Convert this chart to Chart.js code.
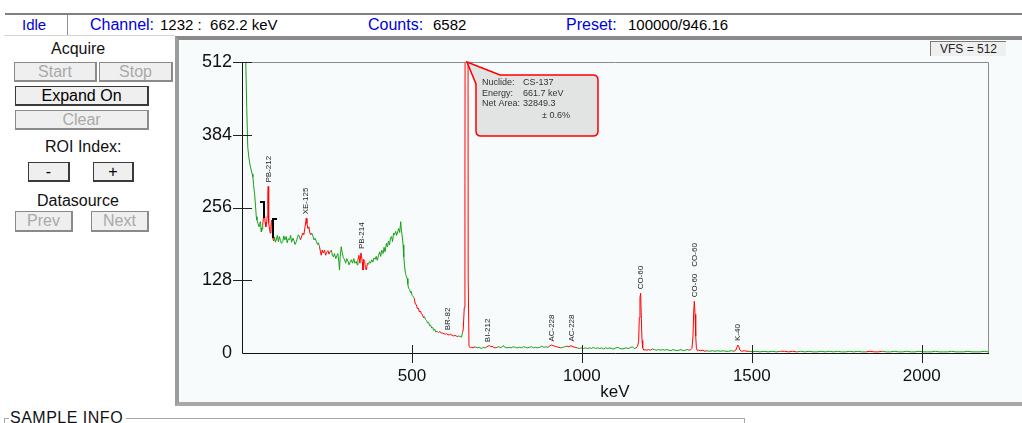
<!DOCTYPE html>
<html>
<head>
<meta charset="utf-8">
<script src="https://cdn.jsdelivr.net/npm/chart.js@4.4.1/dist/chart.umd.min.js"></script>
<style>
body { margin:0; width:1022px; height:423px; overflow:hidden; background:#fff; font-family:"Liberation Sans", Arial, sans-serif; position:relative; }
.abs { position:absolute; white-space:nowrap; }
.status { top:16px; font-size:15px; line-height:18px; color:#000; }
.blue { color:#0000dd; font-size:16px; }
.lbl { font-size:16px; line-height:18px; color:#111; }
.btn { position:absolute; box-sizing:border-box; background:#efefef; border:1px solid #8a8a8a; border-right-width:2px; border-bottom-width:2px; font-size:16px; text-align:center; color:#a9a9a9; }
.btn.on { color:#000; border-color:#3a3a3a; }
#frame { position:absolute; left:175px; top:36px; width:860px; height:370px; box-sizing:border-box; background:#f8fbfb; border-top:4px solid #8a8a8a; border-left:4px solid #9c9c9c; border-bottom:4px solid #a8a8a8; }
#vfs { position:absolute; left:930px; top:41px; width:76px; height:15px; box-sizing:border-box; background:#efefef; border-top:1px solid #7a7a7a; border-left:1px solid #7a7a7a; font-size:12px; line-height:14px; text-align:center; color:#222; }
#chartCanvas { position:absolute; left:176px; top:40px; }
</style>
</head>
<body>

<!-- status bar -->
<div class="abs" style="left:5px;top:13px;width:1017px;height:2px;background:#808080"></div>
<div class="abs" style="left:67px;top:15px;width:1px;height:20px;background:#909090"></div>
<div class="abs" style="left:4px;top:35px;width:171px;height:1px;background:#d4d4d4"></div>
<div class="abs status blue" style="left:22px;font-size:15px">Idle</div>
<div class="abs status blue" style="left:90px">Channel:</div>
<div class="abs status" style="left:160px">1232 :&nbsp; 662.2 keV</div>
<div class="abs status blue" style="left:368px">Counts:</div>
<div class="abs status" style="left:433px">6582</div>
<div class="abs status blue" style="left:566px">Preset:</div>
<div class="abs status" style="left:628px">100000/946.16</div>

<!-- left panel -->
<div class="abs lbl" style="left:51px;top:40px">Acquire</div>
<div class="btn" style="left:14px;top:62px;width:83px;height:20px;line-height:17px">Start</div>
<div class="btn" style="left:99px;top:62px;width:74px;height:20px;line-height:17px">Stop</div>
<div class="btn on" style="left:15px;top:86px;width:134px;height:20px;line-height:17px">Expand On</div>
<div class="btn" style="left:15px;top:110px;width:134px;height:20px;line-height:17px">Clear</div>
<div class="abs lbl" style="left:45px;top:138px">ROI Index:</div>
<div class="btn on" style="left:28px;top:162px;width:42px;height:20px;line-height:17px">-</div>
<div class="btn on" style="left:93px;top:162px;width:41px;height:20px;line-height:17px">+</div>
<div class="abs lbl" style="left:37px;top:192px">Datasource</div>
<div class="btn" style="left:15px;top:211px;width:58px;height:21px;line-height:18px">Prev</div>
<div class="btn" style="left:91px;top:211px;width:58px;height:21px;line-height:18px">Next</div>

<!-- chart frame -->
<div id="frame"></div>
<div id="vfs">VFS = 512</div>
<canvas id="chartCanvas" width="830" height="362"></canvas>

<!-- sample info group -->
<div class="abs" style="left:4px;top:418px;width:5px;height:1px;background:#a8a8a8"></div>
<div class="abs" style="left:4px;top:418px;width:1px;height:10px;background:#a8a8a8"></div>
<div class="abs" style="left:126px;top:418px;width:618px;height:1px;background:#a8a8a8"></div>
<div class="abs" style="left:744px;top:418px;width:1px;height:10px;background:#a8a8a8"></div>
<div class="abs" style="left:10px;top:409px;font-size:16px;line-height:18px;color:#111;letter-spacing:0.5px">SAMPLE INFO</div>

<script>
// ==========================
// SPECTRUM DATA (keV / counts)
// ==========================
const energyKeV = [
    8, 11, 14, 17, 20, 23, 27, 30, 32, 34,
    37, 40, 42, 44, 47, 50, 52, 54, 56, 57,
    59, 61, 63, 64, 66, 68, 70, 72, 74, 76,
    77, 78, 79, 81, 83, 85, 87, 89, 91, 93,
    96, 98, 101, 104, 107, 110, 113, 116, 120, 123,
    126, 130, 133, 136, 140, 143, 146, 150, 153, 156,
    160, 163, 166, 169, 172, 176, 179, 182, 185, 188,
    189, 191, 194, 197, 199, 202, 205, 209, 212, 215,
    219, 222, 225, 228, 231, 233, 236, 239, 243, 246,
    249, 253, 256, 259, 263, 266, 269, 272, 276, 279,
    282, 285, 287, 289, 292, 295, 298, 302, 305, 308,
    312, 315, 318, 322, 325, 329, 332, 336, 339, 341,
    344, 347, 350, 352, 354, 356, 358, 361, 363, 366,
    369, 372, 375, 378, 382, 385, 388, 392, 395, 398,
    402, 405, 408, 411, 415, 418, 421, 425, 428, 431,
    434, 437, 440, 443, 446, 449, 452, 455, 458, 461,
    464, 467, 469, 471, 474, 476, 478, 481, 483, 486,
    488, 490, 493, 496, 498, 501, 504, 507, 510, 513,
    516, 519, 522, 525, 528, 531, 534, 537, 540, 543,
    546, 549, 552, 555, 558, 561, 564, 567, 570, 574,
    578, 582, 586, 590, 594, 598, 602, 606, 610, 614,
    618, 622, 626, 630, 634, 638, 642, 646, 649, 651,
    654, 656, 658, 660, 662, 664, 665.5, 668, 672, 676,
    680, 686, 692, 698, 704, 710, 716, 720, 724, 728,
    732, 736, 740, 745, 750, 756, 762, 768, 774, 780,
    786, 792, 798, 804, 810, 816, 822, 828, 834, 840,
    846, 852, 858, 864, 870, 876, 882, 888, 894, 900,
    905, 910, 915, 920, 926, 932, 938, 944, 950, 956,
    962, 968, 974, 980, 986, 992, 998, 1004, 1010, 1016,
    1022, 1028, 1034, 1040, 1046, 1052, 1058, 1064, 1070, 1076,
    1082, 1088, 1094, 1100, 1106, 1112, 1118, 1124, 1130, 1136,
    1142, 1148, 1154, 1160, 1164, 1167, 1169, 1171, 1173, 1175,
    1177, 1179, 1182, 1186, 1190, 1196, 1202, 1208, 1214, 1220,
    1226, 1232, 1238, 1244, 1250, 1256, 1262, 1268, 1274, 1280,
    1286, 1292, 1298, 1304, 1310, 1316, 1321, 1324, 1327, 1329,
    1331, 1333, 1335, 1337, 1340, 1344, 1350, 1356, 1362, 1368,
    1376, 1384, 1392, 1400, 1408, 1416, 1424, 1432, 1440, 1448,
    1453, 1456, 1459, 1462, 1465, 1470, 1478, 1486, 1494, 1502,
    1512, 1524, 1536, 1548, 1560, 1572, 1584, 1596, 1608, 1620,
    1632, 1644, 1656, 1668, 1680, 1692, 1704, 1716, 1728, 1740,
    1752, 1764, 1776, 1788, 1800, 1812, 1824, 1836, 1848, 1860,
    1872, 1884, 1896, 1908, 1920, 1932, 1944, 1956, 1968, 1980,
    1992, 2004, 2016, 2028, 2040, 2052, 2064, 2076, 2088, 2100,
    2112, 2124, 2136, 2148, 2160, 2172, 2184, 2195
];
const counts = [
    640, 515, 430, 362, 345, 333, 322, 315, 310, 296,
    281, 257, 240, 234, 228, 222, 226, 231, 220, 213,
    218, 225, 238, 252, 246, 230, 222, 226, 240, 270,
    293, 262, 229, 218, 211, 222, 234, 215, 202, 197,
    204, 195, 199, 207, 196, 205, 198, 193, 196, 206,
    199, 205, 194, 201, 199, 207, 195, 202, 198, 191,
    196, 203, 208, 205, 199, 206, 211, 208, 220, 232,
    237, 228, 219, 222, 213, 208, 211, 205, 199, 202,
    196, 191, 194, 187, 178, 172, 181, 176, 181, 172,
    177, 180, 174, 178, 181, 172, 169, 175, 166, 171,
    175, 160, 146, 170, 187, 176, 168, 164, 158, 166,
    161, 155, 160, 164, 158, 166, 158, 161, 155, 164,
    172, 158, 176, 169, 160, 146, 165, 161, 150, 146,
    158, 156, 161, 158, 164, 160, 167, 165, 170, 163,
    172, 178, 170, 181, 175, 186, 178, 193, 187, 197,
    190, 203, 205, 196, 211, 208, 214, 207, 213, 219,
    212, 231, 215, 208, 190, 169, 155, 140, 136, 131,
    121, 114, 112, 106, 108, 101, 99, 96, 86, 85,
    78, 79, 72, 74, 69, 67, 62, 64, 59, 57,
    53, 54, 48, 49, 44, 45, 40, 42, 37, 38,
    36, 38, 35, 35, 34, 33, 34, 32, 32, 33,
    31, 30, 31, 30, 29, 30, 29, 28, 36, 42,
    80, 300, 1500, 4200, 6582, 1600, 134, 12, 9, 10,
    9, 11, 9, 10, 8, 10, 9, 11, 12, 13,
    11, 12, 10, 9, 10, 11, 9, 13, 10, 9,
    10, 9, 11, 10, 9, 10, 9, 11, 10, 9,
    10, 11, 9, 10, 9, 10, 12, 10, 11, 10,
    12, 14, 13, 12, 11, 10, 9, 10, 11, 12,
    11, 13, 11, 10, 9, 8, 9, 8, 9, 8,
    9, 8, 10, 8, 9, 8, 9, 7, 9, 8,
    9, 8, 7, 9, 10, 8, 7, 8, 9, 8,
    9, 11, 8, 9, 12, 20, 62, 98, 105, 60,
    22, 9, 5, 6, 5, 6, 5, 7, 6, 5,
    6, 5, 6, 5, 6, 5, 4, 6, 5, 4,
    5, 6, 4, 5, 6, 5, 6, 8, 30, 72,
    91, 68, 30, 9, 4, 5, 4, 5, 3, 4,
    3, 4, 3, 4, 3, 4, 3, 3, 4, 3,
    5, 10, 14, 11, 5, 3, 4, 3, 3, 2,
    3, 2, 3, 2, 3, 2, 3, 3, 2, 3,
    2, 3, 2, 3, 2, 2, 3, 2, 3, 2,
    3, 2, 2, 3, 2, 3, 2, 2, 3, 2,
    2, 3, 2, 2, 3, 2, 2, 3, 2, 2,
    3, 2, 2, 2, 3, 2, 2, 2, 3, 2,
    2, 2, 3, 2, 2, 2, 3, 2
];

// ROI ranges drawn in red (keV)
const roiStart = [62, 174, 228, 341, 508, 577, 648, 715, 900, 955, 1160, 1318, 1450, 1587, 1841];
const roiEnd   = [95, 204, 263, 370, 537, 636, 685, 750, 935, 985, 1205, 1367, 1494, 1626, 1885];

// peak id labels
const peakNames  = ["PB-212", "XE-125", "PB-214", "BR-82", "BI-212", "AC-228", "AC-228", "CO-60", "CO-60", "CO-60", "K-40"];
const peakKeV    = [78, 189, 353, 605, 723, 911, 970, 1174, 1331, 1331, 1460];
const peakCounts = [293, 237, 176, 33, 12, 13, 13, 105, 91, 91, 14];

// ROI bracket marks
const markKeV    = [66, 91];
const markTop    = [266, 235];
const markBottom = [237, 202];
const markHook   = [-1, 1];

// axis ticks
const xTickValues = [500, 1000, 1500, 2000];
const yTickValues = [0, 128, 256, 384, 512];

// callout on the CS-137 peak
const calloutKeV    = 662;
const calloutKeys   = ["Nuclide:", "Energy:", "Net Area:"];
const calloutValues = ["CS-137", "661.7 keV", "32849.3"];
const calloutNote   = "\u00b1 0.6%";

const GREEN = "#14a014";
const RED = "#ff0000";

function inRoi(a, b) {
    const m = (a + b) / 2;
    return roiStart.some((s, i) => m >= s && m <= roiEnd[i]);
}

// ==========================
// DECORATION PLUGIN
// ==========================
const decorPlugin = {
    id: "decor",
    afterDatasetsDraw(chart) {
        const { ctx, chartArea: a, scales: { x, y } } = chart;
        ctx.save();

        // box: top + right gray
        ctx.lineWidth = 1;
        ctx.strokeStyle = "#8c8c8c";
        ctx.beginPath();
        ctx.moveTo(a.left, a.top + 0.5);
        ctx.lineTo(a.right + 0.5, a.top + 0.5);
        ctx.lineTo(a.right + 0.5, a.bottom);
        ctx.stroke();

        // axes
        ctx.strokeStyle = "#111";
        ctx.beginPath();
        ctx.moveTo(a.left + 0.5, a.top);
        ctx.lineTo(a.left + 0.5, a.bottom + 0.5);
        ctx.lineTo(a.right + 1, a.bottom + 0.5);
        ctx.stroke();

        // tick marks across the axes
        ctx.strokeStyle = "#222";
        ctx.beginPath();
        yTickValues.forEach(v => {
            if (v === 0) return;
            const py = Math.round(y.getPixelForValue(v)) + 0.5;
            ctx.moveTo(a.left - 9, py);
            ctx.lineTo(a.left + 10, py);
        });
        xTickValues.forEach(v => {
            const px = Math.round(x.getPixelForValue(v)) + 0.5;
            ctx.moveTo(px, a.bottom - 8);
            ctx.lineTo(px, a.bottom + 10);
        });
        ctx.stroke();

        // ROI brackets
        ctx.strokeStyle = "#000";
        ctx.lineWidth = 2;
        markKeV.forEach((k, i) => {
            const px = Math.round(x.getPixelForValue(k));
            const t = Math.round(y.getPixelForValue(markTop[i]));
            const b = Math.round(y.getPixelForValue(markBottom[i]));
            ctx.beginPath();
            ctx.moveTo(px + markHook[i] * 4, t);
            ctx.lineTo(px, t);
            ctx.lineTo(px, b);
            ctx.stroke();
        });

        // peak labels (rotated)
        ctx.fillStyle = "#222";
        ctx.font = "8px 'Liberation Sans', Arial, sans-serif";
        ctx.textAlign = "left";
        ctx.textBaseline = "middle";
        const stackTop = {};
        peakNames.forEach((name, i) => {
            const px = x.getPixelForValue(peakKeV[i]);
            let start = y.getPixelForValue(peakCounts[i]) - 4;
            const key = peakKeV[i];
            if (stackTop[key] !== undefined) start = stackTop[key] - 7;
            const w = ctx.measureText(name).width;
            stackTop[key] = start - w;
            ctx.save();
            ctx.translate(px, start);
            ctx.rotate(-Math.PI / 2);
            ctx.fillText(name, 0, 0);
            ctx.restore();
        });

        // callout
        const tipX = x.getPixelForValue(calloutKeV);
        const tipY = a.top;
        const bx = tipX + 9, by = tipY + 13, bw = 122, bh = 61, r = 5;
        ctx.beginPath();
        ctx.moveTo(tipX, tipY);
        ctx.lineTo(bx + 24, by);
        ctx.lineTo(bx + bw - r, by);
        ctx.quadraticCurveTo(bx + bw, by, bx + bw, by + r);
        ctx.lineTo(bx + bw, by + bh - r);
        ctx.quadraticCurveTo(bx + bw, by + bh, bx + bw - r, by + bh);
        ctx.lineTo(bx + r, by + bh);
        ctx.quadraticCurveTo(bx, by + bh, bx, by + bh - r);
        ctx.lineTo(bx, by + 9);
        ctx.closePath();
        ctx.fillStyle = "#e2e3e3";
        ctx.fill();
        ctx.strokeStyle = RED;
        ctx.lineWidth = 1.5;
        ctx.stroke();

        ctx.fillStyle = "#333";
        ctx.font = "9px 'Liberation Sans', Arial, sans-serif";
        ctx.textBaseline = "middle";
        calloutKeys.forEach((k, i) => {
            ctx.fillText(k, bx + 6, by + 8 + i * 10.5);
            ctx.fillText(calloutValues[i], bx + 47, by + 8 + i * 10.5);
        });
        ctx.fillText(calloutNote, bx + 66, by + 41);

        ctx.restore();
    }
};

// ==========================
// CHART
// ==========================
const points = energyKeV.map((e, i) => ({ x: e, y: counts[i] }));

new Chart(document.getElementById("chartCanvas"), {
    type: "line",
    data: {
        datasets: [{
            data: points,
            borderColor: GREEN,
            borderWidth: 1,
            pointRadius: 0,
            tension: 0,
            segment: {
                borderColor: c => inRoi(c.p0.parsed.x, c.p1.parsed.x) ? RED : GREEN
            }
        }]
    },
    options: {
        responsive: false,
        animation: false,
        events: [],
        layout: { padding: { left: 0, top: 22, right: 18, bottom: 0 } },
        plugins: { legend: { display: false }, tooltip: { enabled: false } },
        scales: {
            x: {
                type: "linear",
                min: 0,
                max: 2195,
                afterBuildTicks: s => { s.ticks = xTickValues.map(v => ({ value: v })); },
                afterFit: s => { s.height = 49; },
                grid: { display: false, drawTicks: false },
                border: { display: false },
                ticks: {
                    padding: 13,
                    color: "#111",
                    font: { size: 17, family: "'Liberation Sans', Arial, sans-serif" },
                    maxRotation: 0,
                    callback: v => String(v)
                },
                title: {
                    display: true,
                    text: "keV",
                    color: "#111",
                    padding: { top: 0, bottom: -1 },
                    font: { size: 17, family: "'Liberation Sans', Arial, sans-serif" }
                }
            },
            y: {
                min: 0,
                max: 512,
                afterBuildTicks: s => { s.ticks = yTickValues.map(v => ({ value: v })); },
                afterFit: s => { s.width = 66; },
                grid: { display: false, drawTicks: false },
                border: { display: false },
                ticks: {
                    padding: 10,
                    color: "#111",
                    font: { size: 18, family: "'Liberation Sans', Arial, sans-serif" },
                    callback: v => String(v)
                }
            }
        }
    },
    plugins: [decorPlugin]
});
</script>
</body>
</html>
